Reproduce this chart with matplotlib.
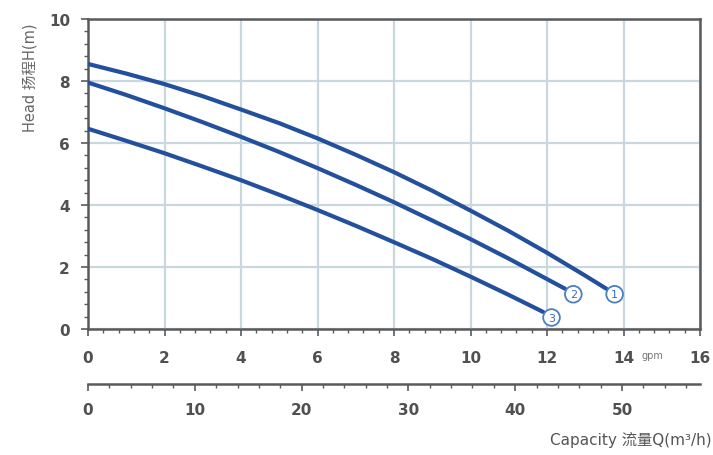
import numpy as np
import matplotlib
matplotlib.use('Agg')
from matplotlib import pyplot as plt
from matplotlib.ticker import MultipleLocator

plt.rcParams['font.family'] = ['DejaVu Sans', 'Noto Sans CJK SC']

# 曲线数据 (流量 gpm, 扬程 m)
q1 = [0, 1, 2, 3, 4, 5, 6, 7, 8, 9, 10, 11, 12, 13, 13.55]
h1 = [8.55, 8.24, 7.9, 7.51, 7.08, 6.64, 6.15, 5.62, 5.06, 4.46, 3.82, 3.16, 2.46, 1.72, 1.3]
q2 = [0, 1, 2, 3, 4, 5, 6, 7, 8, 9, 10, 11, 12, 12.47]
h2 = [7.95, 7.55, 7.12, 6.67, 6.2, 5.71, 5.19, 4.65, 4.09, 3.5, 2.9, 2.27, 1.61, 1.3]
q3 = [0, 1, 2, 3, 4, 5, 6, 7, 8, 9, 10, 11, 11.9]
h3 = [6.46, 6.07, 5.67, 5.24, 4.8, 4.33, 3.84, 3.33, 2.8, 2.26, 1.69, 1.1, 0.55]
curve_labels = ['1', '2', '3']

gpm_ticks = [0, 2, 4, 6, 8, 10, 12, 14, 16]
m3h_ticks = [0, 10, 20, 30, 40, 50]
head_ticks = [0, 2, 4, 6, 8, 10]

blue = '#23509c'
grid_c = '#c9d8de'
axis_c = '#5a5a5a'
text_c = '#505050'

fig = plt.figure(figsize=(7.13, 4.56), dpi=100)
ax = fig.add_axes([88 / 713, 1 - 330 / 456, 612 / 713, 310 / 456])
ax.set_xlim(0, 16)
ax.set_ylim(0, 10)
ax.set_xticks(gpm_ticks)
ax.set_yticks(head_ticks)
ax.xaxis.set_minor_locator(MultipleLocator(0.4))
ax.yaxis.set_minor_locator(MultipleLocator(0.4))
ax.grid(True, color=grid_c, linewidth=1.6)
for s in ax.spines.values():
    s.set_color(axis_c)
    s.set_linewidth(1.8)
ax.tick_params(axis='both', which='major', colors=axis_c, length=5, width=1.2,
               labelcolor=text_c, labelsize=11)
ax.tick_params(axis='x', which='major', pad=10)
ax.tick_params(axis='y', which='major', pad=8)
ax.tick_params(which='minor', colors=axis_c, length=3, width=1)
for t in ax.get_xticklabels() + ax.get_yticklabels():
    t.set_fontweight('bold')

for q, h, lab in zip([q1, q2, q3], [h1, h2, h3], curve_labels):
    ax.plot(q, h, color=blue, linewidth=3, solid_capstyle='round', zorder=3)
    ax.annotate(lab, xy=(q[-1], h[-1]), xytext=(6, -4), textcoords='offset points',
                ha='center', va='center', fontsize=8, color='#3a6fb8', zorder=4,
                bbox=dict(boxstyle='circle,pad=0.3', fc='white', ec='#4a7fc0', lw=1.3))

ax.text(0.922, -0.085, 'gpm', transform=ax.transAxes, fontsize=7, color='#777777',
        ha='center', va='center')

# 第二个横轴 m3/h
ax2 = fig.add_axes([88 / 713, 1 - 385 / 456, 612 / 713, 0.001])
ax2.set_xlim(0, 612 / 10.68)
ax2.set_ylim(0, 1)
ax2.set_xticks(m3h_ticks)
ax2.xaxis.set_minor_locator(MultipleLocator(2))
ax2.set_yticks([])
for k in ['top', 'left', 'right']:
    ax2.spines[k].set_visible(False)
ax2.spines['bottom'].set_color(axis_c)
ax2.spines['bottom'].set_linewidth(1.8)
ax2.tick_params(axis='x', which='major', colors=axis_c, length=5, width=1.2,
                labelcolor=text_c, labelsize=11, pad=8)
ax2.tick_params(axis='x', which='minor', colors=axis_c, length=3, width=1)
for t in ax2.get_xticklabels():
    t.set_fontweight('bold')
ax2.patch.set_alpha(0)

fig.text(30 / 713, 1 - 78 / 456, 'Head 扬程H(m)', rotation=90, ha='center', va='center',
         fontsize=10.5, color='#666666')
fig.text(550 / 713, 1 - 440 / 456, 'Capacity 流量Q(m³/h)', ha='left', va='center',
         fontsize=11, color='#555555')

plt.savefig('out.png', dpi=100)
